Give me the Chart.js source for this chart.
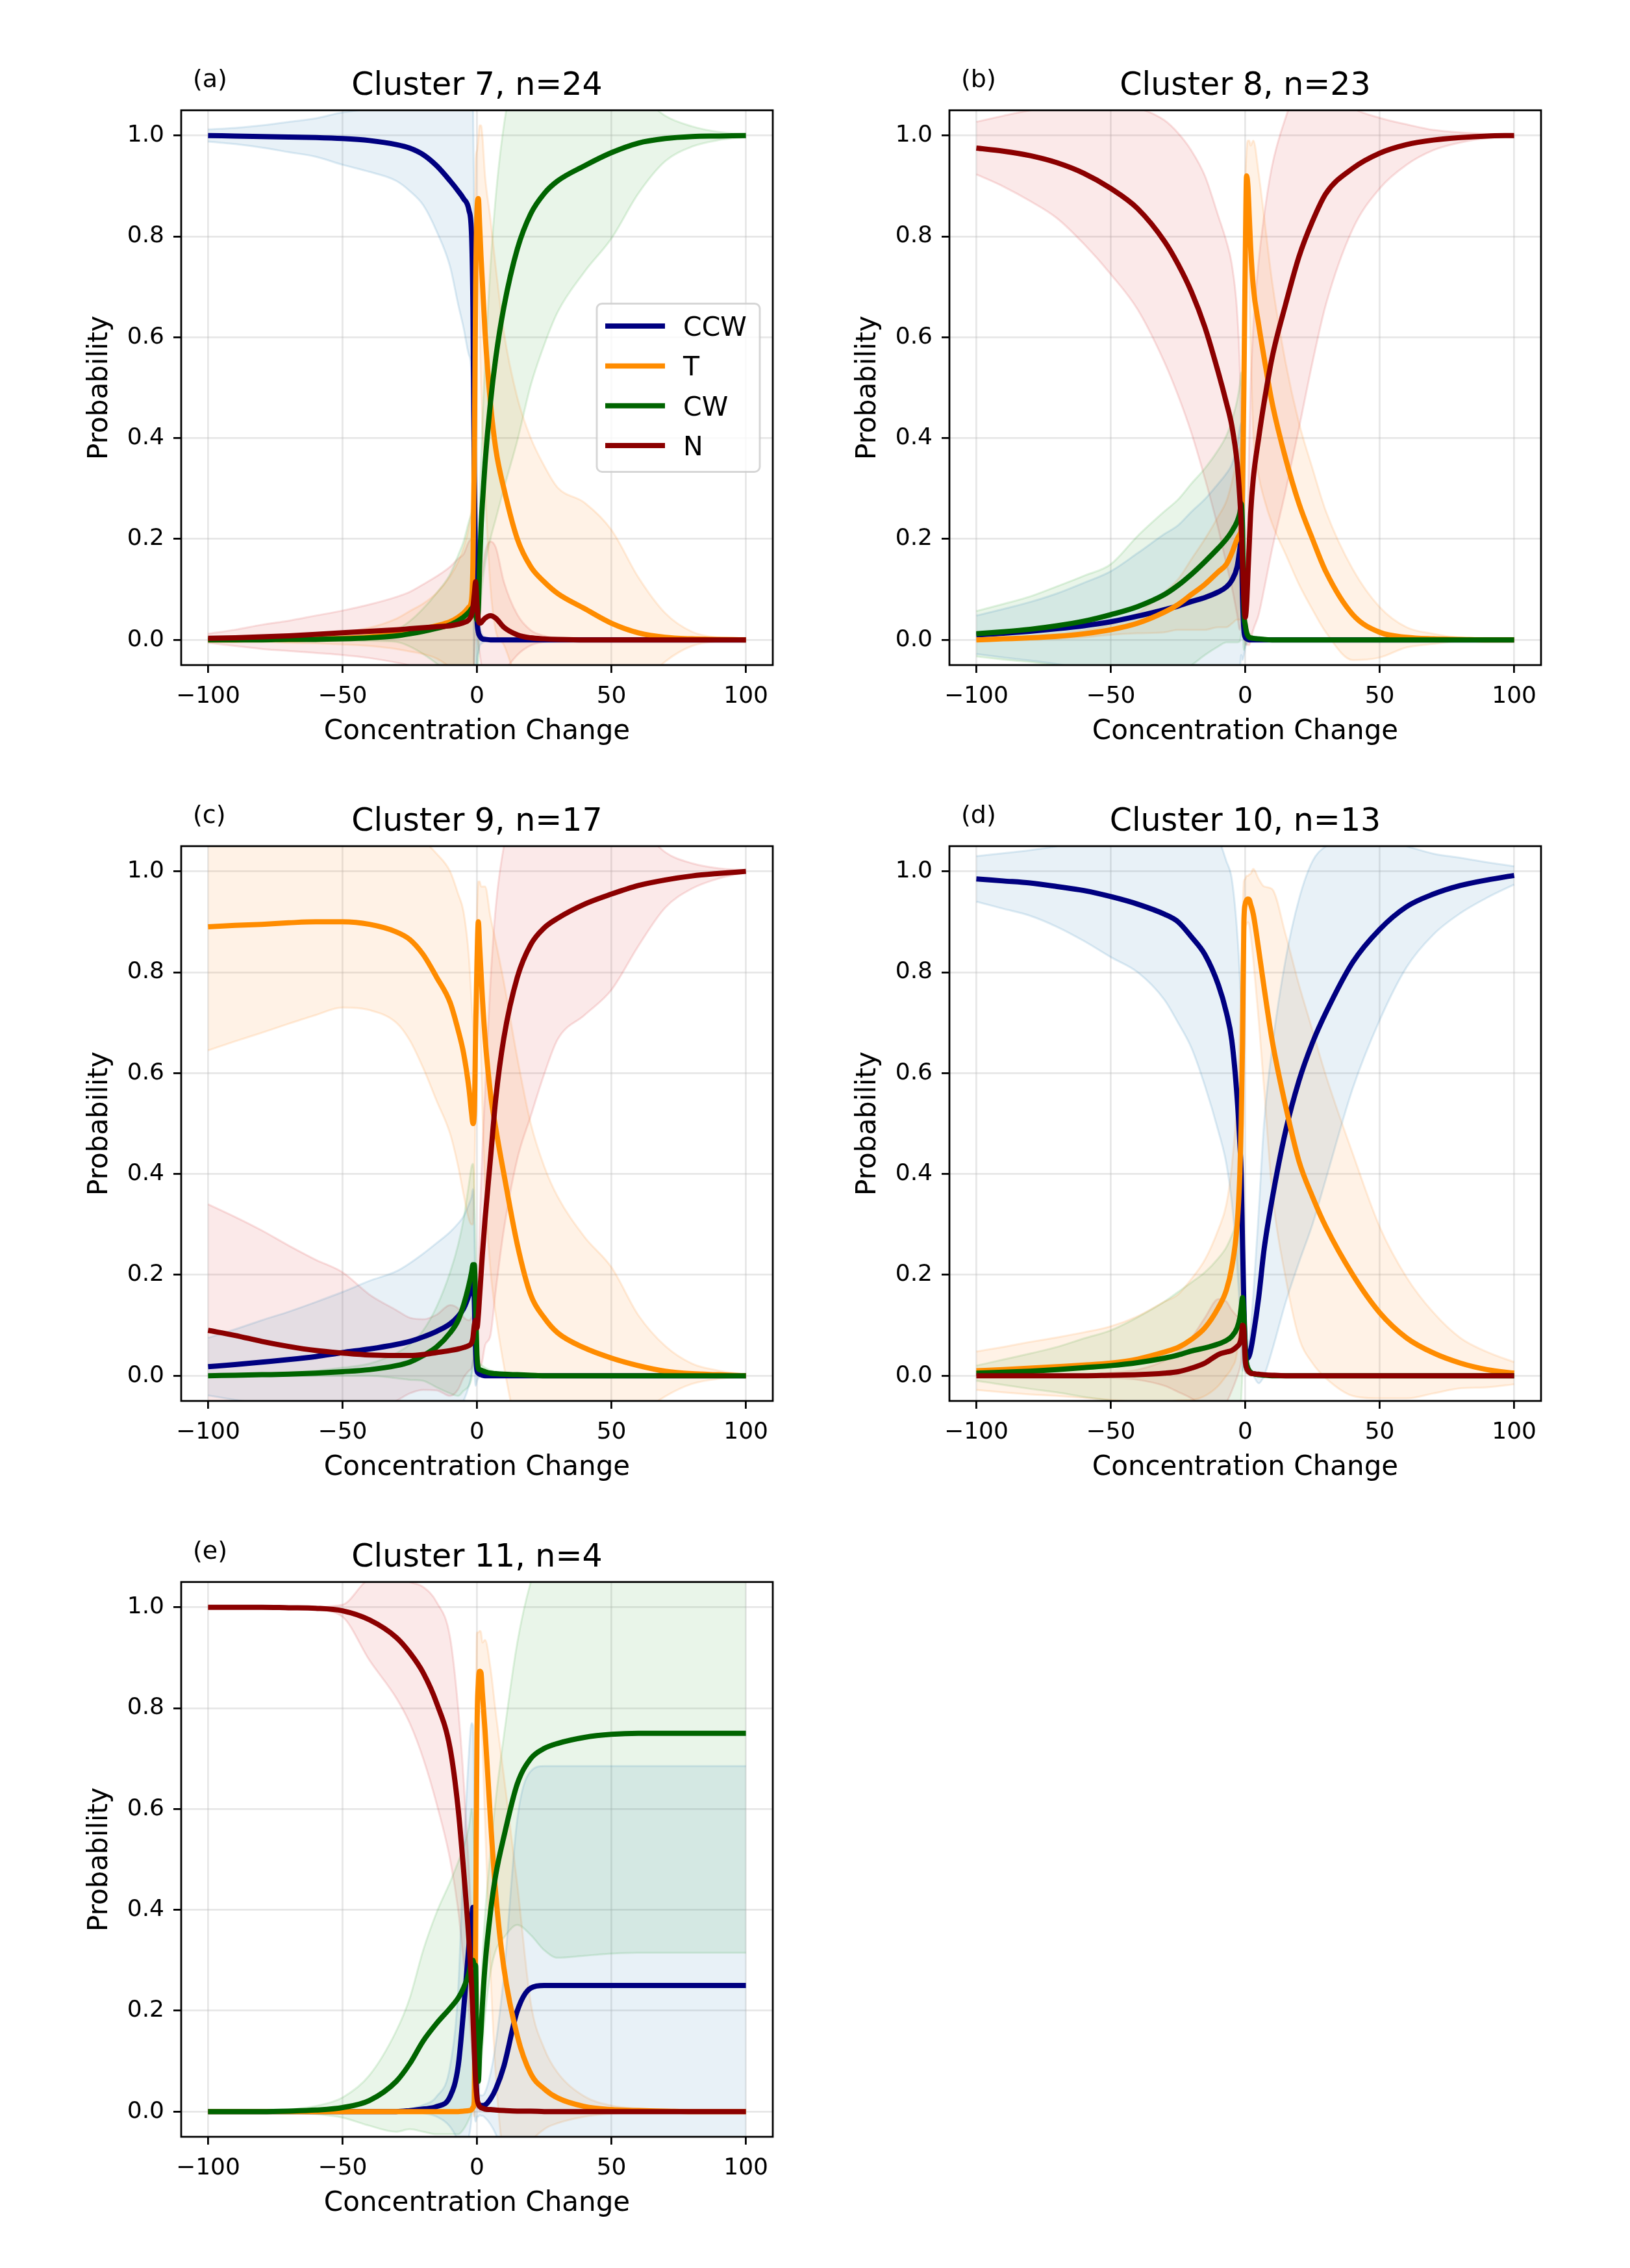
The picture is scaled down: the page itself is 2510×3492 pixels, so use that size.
<!DOCTYPE html>
<html>
<head>
<meta charset="utf-8">
<script src="https://cdn.jsdelivr.net/npm/chart.js@4"></script>
<style>
  html, body { margin: 0; padding: 0; background: #ffffff; }
  body { width: 2510px; height: 3492px; position: relative; overflow: hidden; }
  canvas { position: absolute; }
</style>
</head>
<body>
<canvas id="p0"></canvas>
<canvas id="p1"></canvas>
<canvas id="p2"></canvas>
<canvas id="p3"></canvas>
<canvas id="p4"></canvas>
<script>
// ---------------- DATA ----------------
const xValues = [-100,-90,-80,-70,-60,-50,-40,-30,-25,-20,-15,-10,-7,-5,-3,-2,-1.5,-1,-0.5,0,0.5,1,1.5,2,3,5,7,10,15,20,25,30,40,50,60,70,80,90,100];
const xTicks = [-100, -50, 0, 50, 100];
const yTicks = [0, 0.2, 0.4, 0.6, 0.8, 1.0];
const seriesNames = ['CCW', 'T', 'CW', 'N'];
const panelTitles = ['Cluster 7, n=24', 'Cluster 8, n=23', 'Cluster 9, n=17', 'Cluster 10, n=13', 'Cluster 11, n=4'];
const panelLetters = ['(a)', '(b)', '(c)', '(d)', '(e)'];

// Cluster 7
const c7_CCW_mean = [1.0,0.999,0.998,0.997,0.996,0.994,0.99,0.982,0.975,0.962,0.94,0.91,0.89,0.875,0.852,0.8,0.66,0.33,0.13,0.04,0.015,0.008,0.004,0.002,0.001,0,0,0,0,0,0,0,0,0,0,0,0,0,0];
const c7_CCW_sd   = [0.012,0.016,0.022,0.03,0.038,0.052,0.062,0.072,0.085,0.1,0.13,0.17,0.225,0.256,0.287,0.28,0.42,0.45,0.25,0.08,0.04,0.02,0.012,0.008,0.004,0,0,0,0,0,0,0,0,0,0,0,0,0,0];
const c7_T_mean   = [0,0,0.001,0.001,0.002,0.003,0.006,0.012,0.017,0.022,0.028,0.036,0.045,0.053,0.065,0.08,0.15,0.35,0.7,0.85,0.875,0.82,0.76,0.71,0.61,0.47,0.378,0.3,0.2,0.145,0.115,0.092,0.062,0.033,0.014,0.005,0.002,0.001,0];
const c7_T_sd     = [0.003,0.004,0.005,0.007,0.009,0.012,0.018,0.03,0.04,0.05,0.065,0.09,0.11,0.13,0.16,0.2,0.3,0.35,0.25,0.12,0.12,0.2,0.26,0.29,0.31,0.365,0.36,0.31,0.28,0.255,0.23,0.21,0.21,0.185,0.11,0.048,0.014,0.003,0];
const c7_CW_mean  = [0,0,0,0.001,0.001,0.002,0.004,0.008,0.012,0.017,0.023,0.03,0.038,0.045,0.055,0.062,0.065,0.06,0.05,0.04,0.06,0.15,0.22,0.27,0.35,0.47,0.56,0.66,0.775,0.845,0.885,0.91,0.94,0.966,0.985,0.994,0.998,0.999,1.0];
const c7_CW_sd    = [0.001,0.001,0.002,0.002,0.003,0.004,0.006,0.012,0.025,0.045,0.07,0.1,0.13,0.15,0.18,0.19,0.2,0.2,0.15,0.1,0.1,0.12,0.14,0.16,0.2,0.27,0.32,0.36,0.38,0.34,0.3,0.26,0.21,0.17,0.1,0.045,0.02,0.008,0.003];
const c7_N_mean   = [0.003,0.004,0.006,0.008,0.011,0.014,0.017,0.02,0.022,0.024,0.026,0.028,0.031,0.034,0.04,0.05,0.065,0.09,0.115,0.07,0.04,0.033,0.034,0.037,0.043,0.048,0.043,0.025,0.01,0.004,0.002,0.001,0,0,0,0,0,0,0];
const c7_N_sd     = [0.009,0.016,0.024,0.03,0.037,0.044,0.053,0.065,0.073,0.086,0.1,0.117,0.13,0.136,0.155,0.15,0.14,0.12,0.1,0.06,0.05,0.06,0.08,0.1,0.13,0.147,0.14,0.09,0.04,0.015,0.006,0.002,0,0,0,0,0,0,0];

// Cluster 8
const c8_CCW_mean = [0.01,0.013,0.017,0.022,0.028,0.036,0.047,0.06,0.067,0.076,0.084,0.095,0.105,0.118,0.145,0.18,0.2,0.08,0.02,0.005,0.002,0.001,0,0,0,0,0,0,0,0,0,0,0,0,0,0,0,0,0];
const c8_CCW_sd   = [0.038,0.048,0.058,0.07,0.085,0.1,0.125,0.15,0.16,0.178,0.195,0.215,0.225,0.23,0.24,0.24,0.23,0.12,0.05,0.02,0.01,0.005,0,0,0,0,0,0,0,0,0,0,0,0,0,0,0,0,0];
const c8_T_mean   = [0,0.002,0.004,0.007,0.012,0.02,0.033,0.055,0.07,0.09,0.11,0.135,0.15,0.172,0.2,0.21,0.22,0.3,0.5,0.75,0.92,0.9,0.84,0.78,0.7,0.625,0.56,0.47,0.36,0.27,0.2,0.135,0.05,0.015,0.005,0.002,0.001,0,0];
const c8_T_sd     = [0.001,0.002,0.003,0.005,0.007,0.01,0.02,0.04,0.05,0.07,0.09,0.11,0.125,0.14,0.16,0.17,0.18,0.2,0.2,0.15,0.05,0.09,0.15,0.2,0.29,0.3,0.28,0.24,0.19,0.16,0.14,0.12,0.09,0.05,0.02,0.01,0.003,0.001,0];
const c8_CW_mean  = [0.012,0.016,0.021,0.028,0.037,0.05,0.066,0.09,0.108,0.13,0.155,0.182,0.2,0.215,0.235,0.252,0.27,0.22,0.06,0.03,0.015,0.008,0.005,0.004,0.003,0.002,0.001,0,0,0,0,0,0,0,0,0,0,0,0];
const c8_CW_sd    = [0.045,0.055,0.065,0.078,0.09,0.1,0.14,0.165,0.17,0.18,0.185,0.195,0.205,0.22,0.24,0.255,0.26,0.2,0.08,0.04,0.02,0.01,0.008,0.006,0.004,0.003,0.002,0.001,0,0,0,0,0,0,0,0,0,0,0];
const c8_N_mean   = [0.975,0.969,0.96,0.946,0.925,0.895,0.855,0.79,0.745,0.69,0.62,0.53,0.47,0.425,0.35,0.28,0.23,0.15,0.08,0.045,0.07,0.13,0.19,0.25,0.32,0.4,0.47,0.56,0.665,0.76,0.83,0.885,0.935,0.965,0.982,0.991,0.996,0.999,1.0];
const c8_N_sd     = [0.052,0.07,0.09,0.11,0.14,0.17,0.2,0.24,0.26,0.28,0.3,0.31,0.32,0.32,0.3,0.26,0.2,0.1,0.06,0.05,0.08,0.14,0.2,0.25,0.3,0.35,0.37,0.38,0.37,0.34,0.28,0.22,0.12,0.07,0.04,0.02,0.01,0.004,0.001];

// Cluster 9
const c9_CCW_mean = [0.018,0.022,0.027,0.032,0.038,0.046,0.053,0.062,0.068,0.077,0.088,0.103,0.118,0.133,0.16,0.18,0.2,0.15,0.05,0.01,0.005,0.003,0.002,0.001,0,0,0,0,0,0,0,0,0,0,0,0,0,0,0];
const c9_CCW_sd   = [0.057,0.07,0.083,0.095,0.108,0.12,0.135,0.145,0.155,0.165,0.175,0.182,0.184,0.183,0.18,0.175,0.17,0.14,0.07,0.02,0.01,0.005,0.003,0.002,0,0,0,0,0,0,0,0,0,0,0,0,0,0,0];
const c9_T_mean   = [0.89,0.893,0.895,0.898,0.9,0.9,0.895,0.88,0.865,0.835,0.79,0.74,0.685,0.64,0.57,0.52,0.5,0.52,0.68,0.82,0.9,0.85,0.8,0.75,0.67,0.56,0.49,0.4,0.26,0.16,0.115,0.085,0.055,0.035,0.02,0.009,0.004,0.002,0];
const c9_T_sd     = [0.245,0.23,0.215,0.2,0.185,0.17,0.17,0.18,0.2,0.225,0.245,0.26,0.27,0.28,0.26,0.22,0.2,0.15,0.12,0.1,0.08,0.13,0.17,0.22,0.3,0.35,0.37,0.38,0.37,0.34,0.3,0.27,0.22,0.18,0.1,0.05,0.02,0.008,0.002];
const c9_CW_mean  = [0,0.001,0.002,0.003,0.005,0.008,0.012,0.02,0.027,0.04,0.057,0.085,0.11,0.14,0.18,0.205,0.22,0.22,0.14,0.04,0.015,0.012,0.011,0.01,0.008,0.005,0.004,0.003,0.002,0.001,0,0,0,0,0,0,0,0,0];
const c9_CW_sd    = [0,0.001,0.002,0.003,0.005,0.008,0.012,0.025,0.035,0.05,0.08,0.12,0.15,0.17,0.2,0.21,0.2,0.15,0.1,0.03,0.015,0.012,0.011,0.01,0.008,0.006,0.004,0.003,0.002,0.001,0,0,0,0,0,0,0,0,0];
const c9_N_mean   = [0.09,0.08,0.068,0.058,0.05,0.045,0.041,0.04,0.04,0.042,0.046,0.05,0.053,0.056,0.06,0.065,0.075,0.1,0.11,0.095,0.12,0.16,0.2,0.24,0.31,0.43,0.55,0.67,0.79,0.855,0.888,0.907,0.935,0.955,0.972,0.983,0.991,0.996,1.0];
const c9_N_sd     = [0.25,0.235,0.22,0.2,0.18,0.16,0.12,0.09,0.075,0.07,0.075,0.09,0.08,0.06,0.05,0.05,0.05,0.05,0.05,0.06,0.08,0.13,0.18,0.21,0.25,0.35,0.38,0.38,0.36,0.34,0.29,0.24,0.22,0.19,0.12,0.055,0.025,0.01,0.002];

// Cluster 10
const c10_CCW_mean = [0.985,0.981,0.977,0.97,0.962,0.95,0.935,0.915,0.9,0.87,0.835,0.775,0.72,0.665,0.55,0.46,0.4,0.26,0.14,0.06,0.035,0.035,0.04,0.05,0.08,0.155,0.25,0.35,0.485,0.585,0.66,0.72,0.82,0.885,0.93,0.955,0.972,0.983,0.992];
const c10_CCW_sd   = [0.045,0.055,0.065,0.08,0.1,0.12,0.135,0.17,0.2,0.22,0.26,0.29,0.3,0.32,0.33,0.33,0.32,0.25,0.12,0.05,0.03,0.03,0.035,0.045,0.08,0.17,0.25,0.3,0.34,0.36,0.36,0.33,0.25,0.18,0.12,0.08,0.055,0.035,0.018];
const c10_T_mean   = [0.01,0.012,0.015,0.018,0.021,0.025,0.033,0.047,0.056,0.072,0.095,0.135,0.17,0.215,0.3,0.4,0.5,0.66,0.9,0.935,0.943,0.945,0.944,0.935,0.915,0.845,0.77,0.665,0.535,0.425,0.355,0.295,0.2,0.125,0.075,0.045,0.025,0.012,0.005];
const c10_T_sd     = [0.038,0.045,0.052,0.058,0.065,0.073,0.085,0.1,0.105,0.12,0.135,0.155,0.17,0.2,0.25,0.28,0.3,0.25,0.08,0.05,0.048,0.046,0.05,0.06,0.09,0.14,0.2,0.3,0.34,0.35,0.33,0.3,0.24,0.17,0.12,0.08,0.05,0.035,0.022];
const c10_CW_mean  = [0.005,0.007,0.009,0.012,0.016,0.02,0.026,0.035,0.041,0.049,0.055,0.063,0.07,0.078,0.095,0.115,0.135,0.155,0.12,0.05,0.025,0.015,0.01,0.007,0.004,0.002,0.001,0,0,0,0,0,0,0,0,0,0,0,0];
const c10_CW_sd    = [0.015,0.025,0.035,0.045,0.058,0.07,0.09,0.112,0.125,0.136,0.15,0.17,0.185,0.2,0.21,0.2,0.18,0.15,0.1,0.04,0.02,0.012,0.008,0.006,0.003,0.001,0,0,0,0,0,0,0,0,0,0,0,0,0];
const c10_N_mean   = [0,0,0,0,0,0.001,0.002,0.005,0.008,0.015,0.025,0.042,0.047,0.05,0.058,0.065,0.075,0.1,0.09,0.03,0.015,0.01,0.007,0.005,0.004,0.003,0.002,0.001,0,0,0,0,0,0,0,0,0,0,0];
const c10_N_sd     = [0,0,0,0,0.002,0.005,0.01,0.025,0.04,0.06,0.09,0.11,0.1,0.08,0.06,0.05,0.045,0.04,0.035,0.02,0.01,0.006,0.004,0.003,0,0,0,0,0,0,0,0,0,0,0,0,0,0,0];

// Cluster 11
const c11_CCW_mean = [0,0,0,0,0,0,0,0,0.002,0.005,0.01,0.03,0.09,0.2,0.33,0.38,0.405,0.3,0.1,0.03,0.015,0.013,0.012,0.012,0.013,0.025,0.045,0.09,0.2,0.245,0.25,0.25,0.25,0.25,0.25,0.25,0.25,0.25,0.25];
const c11_CCW_sd   = [0,0,0,0,0,0,0,0,0.003,0.008,0.02,0.06,0.15,0.3,0.38,0.39,0.36,0.3,0.12,0.04,0.025,0.02,0.02,0.02,0.025,0.05,0.09,0.18,0.38,0.43,0.435,0.435,0.435,0.435,0.435,0.435,0.435,0.435,0.435];
const c11_T_mean   = [0,0,0,0,0,0,0,0,0,0,0,0,0,0.001,0.002,0.004,0.008,0.02,0.35,0.75,0.85,0.873,0.87,0.83,0.755,0.58,0.43,0.285,0.15,0.075,0.045,0.027,0.01,0.004,0.002,0.001,0,0,0];
const c11_T_sd     = [0,0,0,0,0,0,0,0,0,0,0,0,0,0,0.001,0.003,0.008,0.03,0.3,0.2,0.1,0.08,0.08,0.1,0.18,0.3,0.36,0.38,0.3,0.14,0.08,0.05,0.02,0.008,0.004,0.002,0,0,0];
const c11_CW_mean  = [0,0,0,0.001,0.003,0.008,0.022,0.06,0.095,0.14,0.175,0.205,0.225,0.245,0.275,0.3,0.3,0.29,0.29,0.08,0.06,0.12,0.16,0.21,0.29,0.395,0.47,0.545,0.65,0.7,0.72,0.73,0.742,0.748,0.75,0.75,0.75,0.75,0.75];
const c11_CW_sd    = [0,0,0.001,0.003,0.008,0.02,0.05,0.1,0.13,0.18,0.22,0.25,0.27,0.28,0.29,0.3,0.28,0.22,0.12,0.02,0.03,0.06,0.08,0.09,0.1,0.12,0.15,0.2,0.28,0.35,0.4,0.425,0.433,0.435,0.435,0.435,0.435,0.435,0.435];
const c11_N_mean   = [1.0,1.0,1.0,0.999,0.998,0.993,0.975,0.94,0.91,0.87,0.81,0.72,0.6,0.48,0.34,0.25,0.19,0.12,0.06,0.027,0.015,0.01,0.008,0.007,0.005,0.004,0.003,0.002,0.001,0.001,0,0,0,0,0,0,0,0,0];
const c11_N_sd     = [0,0,0,0.001,0.003,0.012,0.08,0.12,0.14,0.17,0.2,0.22,0.2,0.18,0.14,0.12,0.1,0.08,0.05,0.02,0.01,0.008,0.006,0.005,0.004,0.003,0.002,0.002,0.001,0.001,0,0,0,0,0,0,0,0,0];

// --------------- STYLE / LAYOUT ---------------
const FONT = "'DejaVu Sans', sans-serif";
const lineColors = ['#000080', '#ff8c00', '#006400', '#8b0000'];
const bandRGB = [[31,119,180], [255,127,14], [44,160,44], [214,39,40]];
const axesPos = [[279,171], [1462,171], [279,1304], [1462,1304], [279,2437]];
const AX_W = 911, AX_H = 853, PAD_L = 200, PAD_T = 150, PAD_R = 60, PAD_B = 150;

const panels = [
  { means: [c7_CCW_mean, c7_T_mean, c7_CW_mean, c7_N_mean], sds: [c7_CCW_sd, c7_T_sd, c7_CW_sd, c7_N_sd], legend: true },
  { means: [c8_CCW_mean, c8_T_mean, c8_CW_mean, c8_N_mean], sds: [c8_CCW_sd, c8_T_sd, c8_CW_sd, c8_N_sd], legend: false },
  { means: [c9_CCW_mean, c9_T_mean, c9_CW_mean, c9_N_mean], sds: [c9_CCW_sd, c9_T_sd, c9_CW_sd, c9_N_sd], legend: false },
  { means: [c10_CCW_mean, c10_T_mean, c10_CW_mean, c10_N_mean], sds: [c10_CCW_sd, c10_T_sd, c10_CW_sd, c10_N_sd], legend: false },
  { means: [c11_CCW_mean, c11_T_mean, c11_CW_mean, c11_N_mean], sds: [c11_CCW_sd, c11_T_sd, c11_CW_sd, c11_N_sd], legend: false }
];

function pts(arr) { return xValues.map((x, i) => ({ x: x, y: arr[i] })); }

function buildDatasets(p) {
  const ds = [];
  seriesNames.forEach((name, k) => {
    ds.push({
      label: name, isMean: true, data: pts(p.means[k]),
      borderColor: lineColors[k], backgroundColor: lineColors[k],
      borderWidth: 8, pointRadius: 0, fill: false,
      cubicInterpolationMode: 'monotone', borderJoinStyle: 'round', borderCapStyle: 'butt',
      order: 3 - k, clip: 0
    });
  });
  seriesNames.forEach((name, k) => {
    const rgb = bandRGB[k].join(',');
    const up = p.means[k].map((m, i) => m + p.sds[k][i]);
    const lo = p.means[k].map((m, i) => m - p.sds[k][i]);
    ds.push({
      label: name + ' upper', data: pts(up),
      borderColor: 'rgba(' + rgb + ',0.14)', backgroundColor: 'rgba(' + rgb + ',0.1)',
      borderWidth: 3, pointRadius: 0, fill: '+1',
      cubicInterpolationMode: 'monotone', order: 10 + 2 * k, clip: 0
    });
    ds.push({
      label: name + ' lower', data: pts(lo),
      borderColor: 'rgba(' + rgb + ',0.14)', backgroundColor: 'rgba(' + rgb + ',0.1)',
      borderWidth: 3, pointRadius: 0, fill: false,
      cubicInterpolationMode: 'monotone', order: 11 + 2 * k, clip: 0
    });
  });
  return ds;
}

const framePlugin = {
  id: 'frame',
  afterDatasetsDraw(chart, args, opts) {
    const ctx = chart.ctx, a = chart.chartArea;
    ctx.save();
    ctx.strokeStyle = '#000';
    ctx.lineWidth = 2.8;
    ctx.strokeRect(a.left, a.top, a.right - a.left, a.bottom - a.top);
    ctx.fillStyle = '#000';
    ctx.font = '38px ' + FONT;
    ctx.textAlign = 'left';
    ctx.textBaseline = 'alphabetic';
    ctx.fillText(opts.letter, a.left + 18, a.top - 36);
    if (opts.legend) {
      const items = chart.data.datasets.filter(d => d.isMean);
      const bw = 251, bh = 259;
      const bx = a.right - 20 - bw;
      const by = (a.top + a.bottom) / 2 - bh / 2;
      const r = 8;
      ctx.beginPath();
      ctx.moveTo(bx + r, by);
      ctx.lineTo(bx + bw - r, by);
      ctx.arcTo(bx + bw, by, bx + bw, by + r, r);
      ctx.lineTo(bx + bw, by + bh - r);
      ctx.arcTo(bx + bw, by + bh, bx + bw - r, by + bh, r);
      ctx.lineTo(bx + r, by + bh);
      ctx.arcTo(bx, by + bh, bx, by + bh - r, r);
      ctx.lineTo(bx, by + r);
      ctx.arcTo(bx, by, bx + r, by, r);
      ctx.closePath();
      ctx.fillStyle = 'rgba(255,255,255,0.8)';
      ctx.fill();
      ctx.strokeStyle = 'rgba(204,204,204,0.8)';
      ctx.lineWidth = 3;
      ctx.stroke();
      ctx.font = '41px ' + FONT;
      items.forEach((d, i) => {
        const y = by + 34.7 + i * 61.3;
        ctx.strokeStyle = d.borderColor;
        ctx.lineWidth = 8;
        ctx.lineCap = 'butt';
        ctx.beginPath();
        ctx.moveTo(bx + 13, y);
        ctx.lineTo(bx + 105, y);
        ctx.stroke();
        ctx.fillStyle = '#000';
        ctx.fillText(d.label, bx + 133, y + 15);
      });
    }
    ctx.restore();
  }
};

Chart.defaults.font.family = FONT;
Chart.defaults.color = '#000';

function fmtX(v) { return v < 0 ? '\u2212' + Math.abs(v) : String(v); }

panels.forEach((p, idx) => {
  const cv = document.getElementById('p' + idx);
  const W = PAD_L + AX_W + PAD_R, H = PAD_T + AX_H + PAD_B;
  cv.width = W; cv.height = H;
  cv.style.width = W + 'px'; cv.style.height = H + 'px';
  cv.style.left = (axesPos[idx][0] - PAD_L) + 'px';
  cv.style.top = (axesPos[idx][1] - PAD_T) + 'px';
  const gridOpts = {
    color: 'rgba(176,176,176,0.3)', lineWidth: 2.8,
    drawTicks: true, tickLength: 12, tickColor: '#000', tickWidth: 2.8
  };
  new Chart(cv, {
    type: 'line',
    data: { datasets: buildDatasets(p) },
    options: {
      responsive: false, animation: false, devicePixelRatio: 1,
      layout: { padding: { left: 0, right: PAD_R, top: 0, bottom: 0 } },
      scales: {
        x: {
          type: 'linear', min: -110, max: 110,
          afterBuildTicks: s => { s.ticks = xTicks.map(v => ({ value: v })); },
          afterFit: s => { s.height = PAD_B; },
          ticks: { callback: v => fmtX(v), font: { size: 36 }, color: '#000', padding: 15, maxRotation: 0, minRotation: 0, autoSkip: false },
          grid: gridOpts,
          border: { display: false },
          title: { display: true, text: 'Concentration Change', font: { size: 42 }, color: '#000', padding: { top: 0, bottom: 22 } }
        },
        y: {
          type: 'linear', min: -0.05, max: 1.05,
          afterBuildTicks: s => { s.ticks = yTicks.map(v => ({ value: v })); },
          afterFit: s => { s.width = PAD_L; },
          ticks: { callback: v => Number(v).toFixed(1), font: { size: 36 }, color: '#000', padding: 14, autoSkip: false },
          grid: gridOpts,
          border: { display: false },
          title: { display: true, text: 'Probability', font: { size: 42 }, color: '#000', padding: { top: 50, bottom: 0 } }
        }
      },
      plugins: {
        legend: { display: false },
        tooltip: { enabled: false },
        title: {
          display: true, text: panelTitles[idx], fullSize: false,
          font: { size: 49, weight: 'normal' }, color: '#000',
          padding: { top: 83, bottom: 7 }
        },
        frame: { letter: panelLetters[idx], legend: p.legend }
      }
    },
    plugins: [framePlugin]
  });
});
</script>
</body>
</html>
